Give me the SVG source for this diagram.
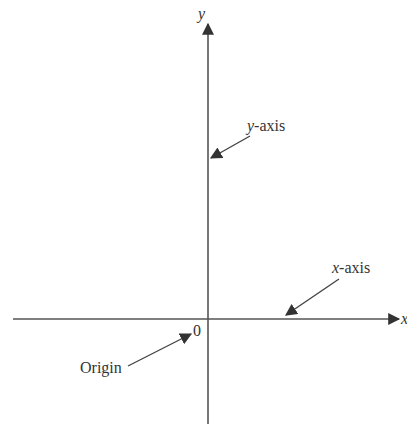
<svg xmlns="http://www.w3.org/2000/svg" width="407" height="426" viewBox="0 0 407 426">
<defs>
<style>
.ax{stroke:#555;stroke-width:1.6;fill:none}
.ld{stroke:#444;stroke-width:1.4;fill:none}
.t{font-family:"Liberation Serif",serif;font-size:16px;fill:#333}
.it{font-style:italic}
</style>
<marker id="ah" viewBox="0 0 10 10" refX="9" refY="5" markerWidth="12" markerHeight="12" markerUnits="userSpaceOnUse" orient="auto">
<path d="M0,0 L10,5 L0,10 z" fill="#333"/>
</marker>
<marker id="axh" viewBox="0 0 10 10" refX="9" refY="5" markerWidth="16" markerHeight="12" markerUnits="userSpaceOnUse" orient="auto">
<path d="M0,0 L10,5 L0,10 z" fill="#333"/>
</marker>
</defs>
<rect width="407" height="426" fill="#fff"/>
<g id="connectors">
<line class="ax" x1="208" y1="424" x2="208" y2="24" marker-end="url(#axh)"/>
<line class="ax" x1="13" y1="319" x2="399" y2="319" marker-end="url(#axh)"/>
<line class="ld" x1="250" y1="136" x2="211" y2="158" marker-end="url(#ah)"/>
<line class="ld" x1="339" y1="279" x2="286" y2="315" marker-end="url(#ah)"/>
<line class="ld" x1="128" y1="366" x2="191" y2="334" marker-end="url(#ah)"/>
</g>
<g id="y-label"><text class="t it" x="198" y="19">y</text></g>
<g id="x-label"><text class="t it" x="401" y="324">x</text></g>
<g id="y-axis"><text class="t" x="247" y="131"><tspan class="it">y</tspan>-axis</text></g>
<g id="x-axis"><text class="t" x="332" y="273"><tspan class="it">x</tspan>-axis</text></g>
<g id="origin-zero"><text class="t" x="193" y="336">0</text></g>
<g id="origin"><text class="t" x="80" y="373">Origin</text></g>
</svg>
